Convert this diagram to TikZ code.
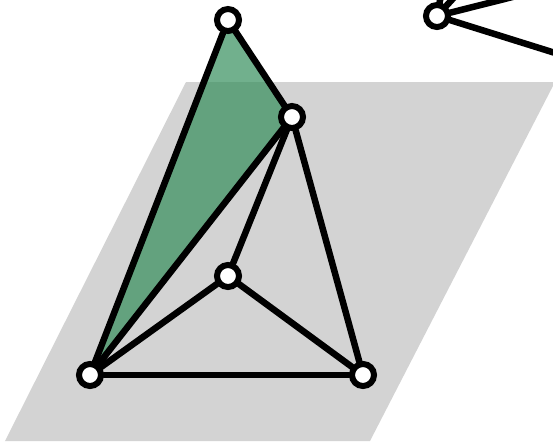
\documentclass[tikz,border=0pt]{standalone}
\usepackage{xcolor}
\usetikzlibrary{calc}
\definecolor{planegray}{RGB}{211,211,211}
\definecolor{facegreen}{RGB}{46,139,87}
\tikzset{
  vertex/.style={circle, draw=black, fill=white, line width=0.06cm, minimum size=0.22cm, inner sep=0pt},
  edge/.style={line width=0.065cm, line cap=round}
}

\begin{document}
\begin{tikzpicture}[x=0.01cm, y=-0.01cm]
  \useasboundingbox (0,0) rectangle (553,441);
  \clip (0,0) rectangle (553,441);

  % Plane
  \fill[planegray] (186,82) -- (555,82) -- (370,441) -- (5,441) -- cycle;

  % Face
  \fill[facegreen, fill opacity=0.68] (228,20) -- (292,117) -- (90,375) -- cycle;

  % Vertices
  \node[vertex] (top) at (228,20) {};
  \node[vertex] (ur) at (292,117) {};
  \node[vertex] (mid) at (228,276) {};
  \node[vertex] (bl) at (90,375) {};
  \node[vertex] (br) at (363,375) {};
  \node[vertex] (far) at (437,16) {};

  % Neighbours outside the frame
  \coordinate (n1) at (444,-20);
  \coordinate (n2) at (470,-20);
  \coordinate (n3) at (580,-20);
  \coordinate (n4) at (600,67);

  % Edges
  \draw[edge] (top) -- (bl);
  \draw[edge] (top) -- (ur);
  \draw[edge] (ur) -- (bl);
  \draw[edge] (ur) -- (mid);
  \draw[edge] (ur) -- (br);
  \draw[edge] (mid) -- (bl);
  \draw[edge] (mid) -- (br);
  \draw[edge] (bl) -- (br);
  \draw[edge] (far) -- (n1);
  \draw[edge] (far) -- (n2);
  \draw[edge] (far) -- (n3);
  \draw[edge] (far) -- (n4);
\end{tikzpicture}
\end{document}
